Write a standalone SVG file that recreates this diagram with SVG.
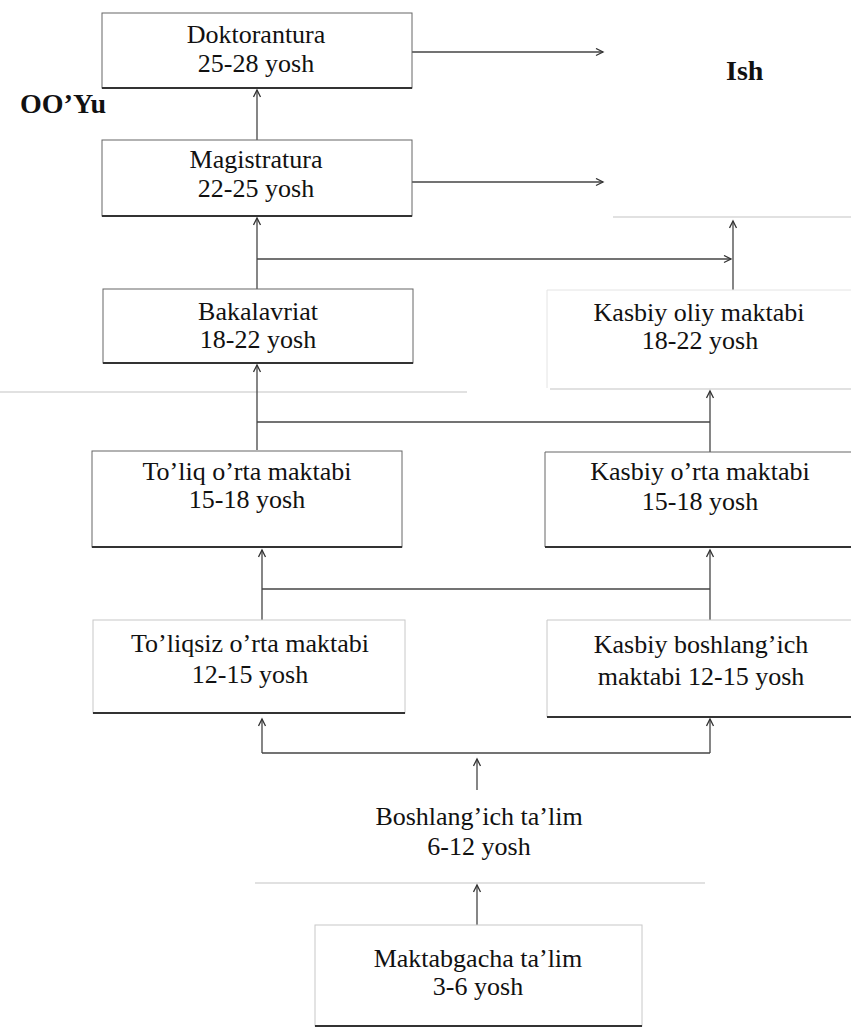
<svg xmlns="http://www.w3.org/2000/svg" width="851" height="1034" viewBox="0 0 851 1034">
<style>
  .t{font-family:"Liberation Serif","Times New Roman",serif;font-size:26px;fill:#111;text-anchor:middle}
  .b{font-family:"Liberation Serif","Times New Roman",serif;font-size:28px;font-weight:bold;fill:#111}
  .box{fill:none;stroke:#666;stroke-width:1}
  .faint{fill:none;stroke:#c8c8c8;stroke-width:1}
  .vfaint{fill:none;stroke:#e4e4e4;stroke-width:1}
  .base{stroke:#333;stroke-width:2;fill:none}
  .c{stroke:#444;stroke-width:1.3;fill:none}
  .guide{stroke:#c4c4c4;stroke-width:1.2;fill:none}
</style>
<defs>
  <marker id="ah" markerWidth="10" markerHeight="10" refX="8" refY="4" orient="auto" markerUnits="userSpaceOnUse">
    <path d="M1,0.5 L8,4 L1,7.5" fill="none" stroke="#333" stroke-width="1.3"/>
  </marker>
</defs>
<rect width="851" height="1034" fill="#fff"/>

<g id="guides">
  <line class="guide" x1="613" y1="217" x2="851" y2="217"/>
  <line class="guide" x1="0" y1="392" x2="467" y2="392"/>
  <line class="guide" x1="550" y1="389" x2="851" y2="389"/>
  <line class="guide" x1="255" y1="883" x2="705" y2="883"/>
</g>

<g id="connectors">
  <line class="c" x1="257" y1="140" x2="257" y2="90" marker-end="url(#ah)"/>
  <line class="c" x1="412" y1="52" x2="603" y2="52" marker-end="url(#ah)"/>
  <line class="c" x1="412" y1="182" x2="603" y2="182" marker-end="url(#ah)"/>
  <line class="c" x1="257" y1="289" x2="257" y2="218" marker-end="url(#ah)"/>
  <line class="c" x1="257" y1="259" x2="731" y2="259" marker-end="url(#ah)"/>
  <line class="c" x1="733" y1="290" x2="733" y2="221" marker-end="url(#ah)"/>
  <line class="c" x1="257" y1="450" x2="257" y2="365" marker-end="url(#ah)"/>
  <line class="c" x1="257" y1="422" x2="710" y2="422"/>
  <line class="c" x1="710" y1="452" x2="710" y2="391" marker-end="url(#ah)"/>
  <line class="c" x1="262" y1="620" x2="262" y2="550" marker-end="url(#ah)"/>
  <line class="c" x1="262" y1="589" x2="710" y2="589"/>
  <line class="c" x1="710" y1="620" x2="710" y2="550" marker-end="url(#ah)"/>
  <line class="c" x1="262" y1="753" x2="710" y2="753"/>
  <line class="c" x1="262" y1="753" x2="262" y2="719" marker-end="url(#ah)"/>
  <line class="c" x1="710" y1="753" x2="710" y2="719" marker-end="url(#ah)"/>
  <line class="c" x1="477" y1="790" x2="477" y2="759" marker-end="url(#ah)"/>
  <line class="c" x1="477" y1="925" x2="477" y2="885" marker-end="url(#ah)"/>
</g>

<g id="doktorantura">
  <rect class="box" x="102" y="13" width="310" height="75"/>
  <line class="base" x1="102" y1="88" x2="412" y2="88"/>
  <text class="t" x="256" y="43">Doktorantura</text>
  <text class="t" x="256" y="72">25-28 yosh</text>
</g>

<g id="ish">
  <text class="b" x="726" y="80">Ish</text>
</g>

<g id="ooyu">
  <text class="b" x="20" y="113">OO’Yu</text>
</g>

<g id="magistratura">
  <rect class="box" x="102" y="140" width="310" height="76"/>
  <line class="base" x1="102" y1="216" x2="412" y2="216"/>
  <text class="t" x="256" y="168">Magistratura</text>
  <text class="t" x="256" y="197">22-25 yosh</text>
</g>

<g id="bakalavriat">
  <rect class="box" x="103" y="289" width="310" height="74"/>
  <line class="base" x1="103" y1="363" x2="413" y2="363"/>
  <text class="t" x="258" y="320">Bakalavriat</text>
  <text class="t" x="258" y="348">18-22 yosh</text>
</g>

<g id="kasbiy-oliy">
  <path class="vfaint" d="M547,388 V290 H851"/>
  <text class="t" x="699" y="321">Kasbiy oliy maktabi</text>
  <text class="t" x="700" y="349">18-22 yosh</text>
</g>

<g id="toliq">
  <rect class="box" x="92" y="451" width="310" height="96"/>
  <line class="base" x1="92" y1="547" x2="402" y2="547"/>
  <text class="t" x="247" y="480">To’liq o’rta maktabi</text>
  <text class="t" x="247" y="508">15-18 yosh</text>
</g>

<g id="kasbiy-orta">
  <path class="box" d="M545,547 V452 H851"/>
  <line class="base" x1="545" y1="547" x2="851" y2="547"/>
  <text class="t" x="700" y="480">Kasbiy o’rta maktabi</text>
  <text class="t" x="700" y="510">15-18 yosh</text>
</g>

<g id="toliqsiz">
  <rect class="faint" x="93" y="620" width="312" height="93"/>
  <line class="base" x1="93" y1="713" x2="405" y2="713" stroke="#555" stroke-width="1.6"/>
  <text class="t" x="250" y="652">To’liqsiz o’rta maktabi</text>
  <text class="t" x="250" y="683">12-15 yosh</text>
</g>

<g id="kasbiy-boshlangich">
  <path class="faint" d="M547,717 V620 H851"/>
  <line class="base" x1="547" y1="717" x2="851" y2="717" stroke="#555" stroke-width="1.6"/>
  <text class="t" x="701" y="653">Kasbiy boshlang’ich</text>
  <text class="t" x="701" y="685">maktabi 12-15 yosh</text>
</g>

<g id="boshlangich">
  <text class="t" x="479" y="825">Boshlang’ich ta’lim</text>
  <text class="t" x="479" y="855">6-12 yosh</text>
</g>

<g id="maktabgacha">
  <rect class="faint" x="315" y="925" width="327" height="101" stroke="#aaa"/>
  <line class="base" x1="315" y1="1026" x2="642" y2="1026" stroke="#666" stroke-width="1.5"/>
  <text class="t" x="478" y="967">Maktabgacha ta’lim</text>
  <text class="t" x="478" y="995">3-6 yosh</text>
</g>
</svg>
